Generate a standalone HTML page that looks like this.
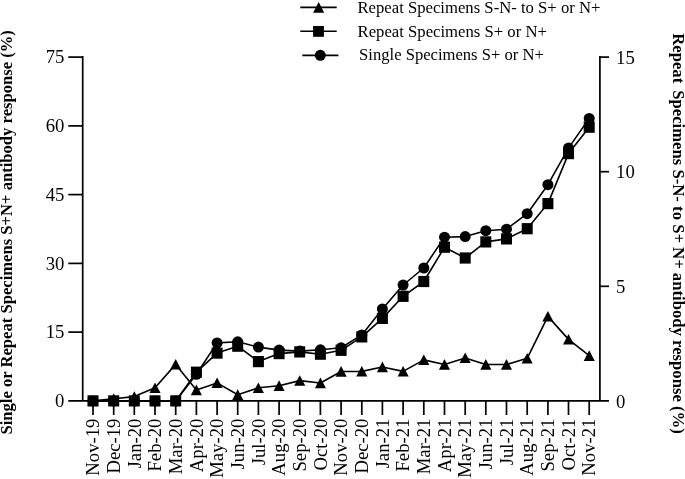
<!DOCTYPE html>
<html><head><meta charset="utf-8"><title>Figure</title>
<style>
html,body{margin:0;padding:0;background:#fff;}
svg{display:block;font-family:"Liberation Serif","Times New Roman",serif;fill:#000;}
.ln{fill:none;stroke:#000;stroke-width:1.6;stroke-linejoin:round;}
.ax{fill:none;stroke:#000;stroke-width:1.7;}
.tk{font-size:18.7px;}
.xl{font-size:18.7px;}
.lg{font-size:16.55px;}
.yl{font-size:16.55px;font-weight:bold;}
</style></head><body>
<svg width="685" height="479" viewBox="0 0 685 479">
<rect x="0" y="0" width="685" height="479" fill="#fff"/>
<path class="ax" d="M82.7 56.1 V400.9 M68.3 400.9 H609 M599.9 56.1 V400.9"/>
<text class="tk" x="64.4" y="407.2" text-anchor="end">0</text>
<path class="ax" d="M68.3 332.1 H82.7"/><text class="tk" x="64.4" y="338.4" text-anchor="end">15</text>
<path class="ax" d="M68.3 263.4 H82.7"/><text class="tk" x="64.4" y="269.7" text-anchor="end">30</text>
<path class="ax" d="M68.3 194.6 H82.7"/><text class="tk" x="64.4" y="200.9" text-anchor="end">45</text>
<path class="ax" d="M68.3 125.9 H82.7"/><text class="tk" x="64.4" y="132.2" text-anchor="end">60</text>
<path class="ax" d="M68.3 57.1 H82.7"/><text class="tk" x="64.4" y="63.4" text-anchor="end">75</text>
<text class="tk" x="616.1" y="407.5">0</text>
<path class="ax" d="M599.9 286.3 H609"/><text class="tk" x="616.1" y="292.9">5</text>
<path class="ax" d="M599.9 171.7 H609"/><text class="tk" x="616.1" y="178.3">10</text>
<path class="ax" d="M599.9 57.1 H609"/><text class="tk" x="616.1" y="63.7">15</text>
<path class="ax" d="M93.0 400.9 V415 M113.7 400.9 V415 M134.3 400.9 V415 M155.0 400.9 V415 M175.7 400.9 V415 M196.4 400.9 V415 M217.1 400.9 V415 M237.7 400.9 V415 M258.4 400.9 V415 M279.1 400.9 V415 M299.8 400.9 V415 M320.4 400.9 V415 M341.1 400.9 V415 M361.8 400.9 V415 M382.4 400.9 V415 M403.1 400.9 V415 M423.8 400.9 V415 M444.5 400.9 V415 M465.2 400.9 V415 M485.8 400.9 V415 M506.5 400.9 V415 M527.2 400.9 V415 M547.9 400.9 V415 M568.5 400.9 V415 M589.2 400.9 V415"/>
<text class="xl" transform="translate(99.2 418.6) rotate(-90)" text-anchor="end">Nov-19</text>
<text class="xl" transform="translate(119.9 418.6) rotate(-90)" text-anchor="end">Dec-19</text>
<text class="xl" transform="translate(140.5 418.6) rotate(-90)" text-anchor="end">Jan-20</text>
<text class="xl" transform="translate(161.2 418.6) rotate(-90)" text-anchor="end">Feb-20</text>
<text class="xl" transform="translate(181.9 418.6) rotate(-90)" text-anchor="end">Mar-20</text>
<text class="xl" transform="translate(202.6 418.6) rotate(-90)" text-anchor="end">Apr-20</text>
<text class="xl" transform="translate(223.2 418.6) rotate(-90)" text-anchor="end">May-20</text>
<text class="xl" transform="translate(243.9 418.6) rotate(-90)" text-anchor="end">Jun-20</text>
<text class="xl" transform="translate(264.6 418.6) rotate(-90)" text-anchor="end">Jul-20</text>
<text class="xl" transform="translate(285.3 418.6) rotate(-90)" text-anchor="end">Aug-20</text>
<text class="xl" transform="translate(305.9 418.6) rotate(-90)" text-anchor="end">Sep-20</text>
<text class="xl" transform="translate(326.6 418.6) rotate(-90)" text-anchor="end">Oct-20</text>
<text class="xl" transform="translate(347.3 418.6) rotate(-90)" text-anchor="end">Nov-20</text>
<text class="xl" transform="translate(368.0 418.6) rotate(-90)" text-anchor="end">Dec-20</text>
<text class="xl" transform="translate(388.6 418.6) rotate(-90)" text-anchor="end">Jan-21</text>
<text class="xl" transform="translate(409.3 418.6) rotate(-90)" text-anchor="end">Feb-21</text>
<text class="xl" transform="translate(430.0 418.6) rotate(-90)" text-anchor="end">Mar-21</text>
<text class="xl" transform="translate(450.7 418.6) rotate(-90)" text-anchor="end">Apr-21</text>
<text class="xl" transform="translate(471.4 418.6) rotate(-90)" text-anchor="end">May-21</text>
<text class="xl" transform="translate(492.0 418.6) rotate(-90)" text-anchor="end">Jun-21</text>
<text class="xl" transform="translate(512.7 418.6) rotate(-90)" text-anchor="end">Jul-21</text>
<text class="xl" transform="translate(533.4 418.6) rotate(-90)" text-anchor="end">Aug-21</text>
<text class="xl" transform="translate(554.1 418.6) rotate(-90)" text-anchor="end">Sep-21</text>
<text class="xl" transform="translate(574.7 418.6) rotate(-90)" text-anchor="end">Oct-21</text>
<text class="xl" transform="translate(595.4 418.6) rotate(-90)" text-anchor="end">Nov-21</text>
<polyline class="ln" points="93.0,400.9 113.7,398.7 134.3,396.6 155.0,387.8 175.7,364.4 196.4,390.0 217.1,382.9 237.7,394.7 258.4,387.8 279.1,385.7 299.8,380.6 320.4,383.0 341.1,371.5 361.8,371.4 382.4,367.0 403.1,371.4 423.8,359.9 444.5,364.5 465.2,357.9 485.8,364.5 506.5,364.5 527.2,358.3 547.9,316.4 568.5,339.4 589.2,355.7"/>
<polygon points="93.0,395.5 87.5,406.1 98.5,406.1"/><polygon points="113.7,393.3 108.1,403.9 119.2,403.9"/><polygon points="134.3,391.2 128.8,401.8 139.9,401.8"/><polygon points="155.0,382.4 149.5,393.0 160.6,393.0"/><polygon points="175.7,359.0 170.1,369.6 181.2,369.6"/><polygon points="196.4,384.6 190.8,395.2 201.9,395.2"/><polygon points="217.1,377.5 211.5,388.1 222.6,388.1"/><polygon points="237.7,389.3 232.2,399.9 243.3,399.9"/><polygon points="258.4,382.4 252.8,393.0 263.9,393.0"/><polygon points="279.1,380.3 273.5,390.9 284.6,390.9"/><polygon points="299.8,375.2 294.2,385.8 305.3,385.8"/><polygon points="320.4,377.6 314.9,388.2 326.0,388.2"/><polygon points="341.1,366.1 335.6,376.7 346.7,376.7"/><polygon points="361.8,366.0 356.2,376.6 367.3,376.6"/><polygon points="382.4,361.6 376.9,372.2 388.0,372.2"/><polygon points="403.1,366.0 397.6,376.6 408.7,376.6"/><polygon points="423.8,354.5 418.2,365.1 429.4,365.1"/><polygon points="444.5,359.1 438.9,369.7 450.0,369.7"/><polygon points="465.2,352.5 459.6,363.1 470.7,363.1"/><polygon points="485.8,359.1 480.3,369.7 491.4,369.7"/><polygon points="506.5,359.1 500.9,369.7 512.0,369.7"/><polygon points="527.2,352.9 521.6,363.5 532.7,363.5"/><polygon points="547.9,311.0 542.3,321.6 553.4,321.6"/><polygon points="568.5,334.0 563.0,344.6 574.1,344.6"/><polygon points="589.2,350.3 583.7,360.9 594.8,360.9"/>
<polyline class="ln" points="93.0,400.9 113.7,400.9 134.3,400.9 155.0,400.9 175.7,400.9 196.4,374.3 217.1,342.9 237.7,341.8 258.4,347.1 279.1,350.1 299.8,351.1 320.4,349.8 341.1,347.8 361.8,334.9 382.4,308.9 403.1,285.0 423.8,268.0 444.5,237.2 465.2,236.6 485.8,230.7 506.5,229.2 527.2,213.7 547.9,184.7 568.5,148.1 589.2,118.4"/>
<circle cx="93.0" cy="400.9" r="5.5"/><circle cx="113.7" cy="400.9" r="5.5"/><circle cx="134.3" cy="400.9" r="5.5"/><circle cx="155.0" cy="400.9" r="5.5"/><circle cx="175.7" cy="400.9" r="5.5"/><circle cx="196.4" cy="374.3" r="5.5"/><circle cx="217.1" cy="342.9" r="5.5"/><circle cx="237.7" cy="341.8" r="5.5"/><circle cx="258.4" cy="347.1" r="5.5"/><circle cx="279.1" cy="350.1" r="5.5"/><circle cx="299.8" cy="351.1" r="5.5"/><circle cx="320.4" cy="349.8" r="5.5"/><circle cx="341.1" cy="347.8" r="5.5"/><circle cx="361.8" cy="334.9" r="5.5"/><circle cx="382.4" cy="308.9" r="5.5"/><circle cx="403.1" cy="285.0" r="5.5"/><circle cx="423.8" cy="268.0" r="5.5"/><circle cx="444.5" cy="237.2" r="5.5"/><circle cx="465.2" cy="236.6" r="5.5"/><circle cx="485.8" cy="230.7" r="5.5"/><circle cx="506.5" cy="229.2" r="5.5"/><circle cx="527.2" cy="213.7" r="5.5"/><circle cx="547.9" cy="184.7" r="5.5"/><circle cx="568.5" cy="148.1" r="5.5"/><circle cx="589.2" cy="118.4" r="5.5"/>
<polyline class="ln" points="93.0,400.9 113.7,400.9 134.3,400.9 155.0,400.9 175.7,400.9 196.4,372.2 217.1,353.1 237.7,346.2 258.4,361.6 279.1,353.6 299.8,351.9 320.4,354.2 341.1,350.3 361.8,336.9 382.4,318.4 403.1,296.3 423.8,281.5 444.5,247.2 465.2,258.0 485.8,241.9 506.5,238.9 527.2,228.7 547.9,203.6 568.5,153.6 589.2,127.2"/>
<rect x="87.5" y="395.3" width="11" height="11.2"/><rect x="108.2" y="395.3" width="11" height="11.2"/><rect x="128.8" y="395.3" width="11" height="11.2"/><rect x="149.5" y="395.3" width="11" height="11.2"/><rect x="170.2" y="395.3" width="11" height="11.2"/><rect x="190.9" y="366.6" width="11" height="11.2"/><rect x="211.6" y="347.5" width="11" height="11.2"/><rect x="232.2" y="340.6" width="11" height="11.2"/><rect x="252.9" y="356.0" width="11" height="11.2"/><rect x="273.6" y="348.0" width="11" height="11.2"/><rect x="294.2" y="346.3" width="11" height="11.2"/><rect x="314.9" y="348.6" width="11" height="11.2"/><rect x="335.6" y="344.7" width="11" height="11.2"/><rect x="356.3" y="331.3" width="11" height="11.2"/><rect x="376.9" y="312.8" width="11" height="11.2"/><rect x="397.6" y="290.7" width="11" height="11.2"/><rect x="418.3" y="275.9" width="11" height="11.2"/><rect x="439.0" y="241.6" width="11" height="11.2"/><rect x="459.7" y="252.4" width="11" height="11.2"/><rect x="480.3" y="236.3" width="11" height="11.2"/><rect x="501.0" y="233.3" width="11" height="11.2"/><rect x="521.7" y="223.1" width="11" height="11.2"/><rect x="542.4" y="198.0" width="11" height="11.2"/><rect x="563.0" y="148.0" width="11" height="11.2"/><rect x="583.7" y="121.6" width="11" height="11.2"/>
<path class="ln" d="M300.3 7.35 H336.7 M300.3 31.3 H336.7 M302.3 55.4 H338.4"/>
<polygon points="318.7,2.1 313.1,12.7 324.2,12.7"/><rect x="313.1" y="26" width="10.8" height="10.8"/><circle cx="320.3" cy="55.3" r="5.5"/>
<text class="lg" x="357.5" y="12.8" style="font-size:16.68px">Repeat Specimens S-N- to S+ or N+</text>
<text class="lg" x="357.5" y="36.5" style="font-size:16.7px">Repeat Specimens S+ or N+</text>
<text class="lg" x="359.1" y="60.2" style="font-size:16.6px">Single Specimens S+ or N+</text>
<text class="yl" transform="translate(12.3 434.6) rotate(-90)" style="font-size:16.61px">Single or Repeat Specimens S+N+ antibody response (%)</text>
<text class="yl" transform="translate(672.8 33.2) rotate(90)" style="font-size:16.69px;white-space:pre">Repeat  <tspan dx="-1.4">Specimens</tspan> S-N- to S+ N+ antibody response (%)</text>
</svg></body></html>
